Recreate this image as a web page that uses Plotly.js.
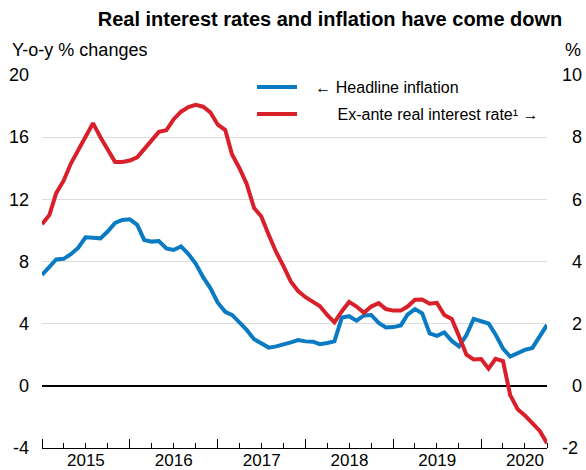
<!DOCTYPE html>
<html><head><meta charset="utf-8">
<script src="https://cdn.plot.ly/plotly-3.0.1.min.js"></script>
<style>html,body{margin:0;padding:0;background:#fff}</style>
</head><body><div id="chart" style="width:586px;height:470px"></div>
<script>
// Monthly data, Jan 2015 - Oct 2020
const firstYear = 2015;
const headlineInflation = [
  7.14, 7.70, 8.13, 8.17, 8.47, 8.89, 9.56, 9.53, 9.49, 9.93, 10.48, 10.67,
  10.71, 10.36, 9.39, 9.28, 9.32, 8.84, 8.74, 8.97, 8.48, 7.87, 6.99, 6.29,
  5.35, 4.76, 4.57, 4.08, 3.60, 3.00, 2.71, 2.46, 2.54, 2.70, 2.80, 2.95,
  2.86, 2.84, 2.68, 2.76, 2.86, 4.39, 4.48, 4.19, 4.53, 4.56, 4.05, 3.75,
  3.78, 3.89, 4.58, 4.94, 4.66, 3.37, 3.22, 3.43, 2.89, 2.54, 3.27, 4.31,
  4.19, 4.01, 3.30, 2.40, 1.88, 2.13, 2.31, 2.44, 3.14, 3.92
];
const realRate = [
  5.2, 5.5, 6.2, 6.6, 7.15, 7.6, 8.05, 8.45, 8.0, 7.6, 7.2, 7.2,
  7.25, 7.35, 7.6, 7.9, 8.17, 8.22, 8.57, 8.82, 8.97, 9.04, 8.98, 8.8,
  8.4, 8.23, 7.45, 7.0, 6.5, 5.72, 5.45, 4.85, 4.3, 3.85, 3.35, 3.05,
  2.85, 2.7, 2.57, 2.28, 2.04, 2.4, 2.7, 2.55, 2.35, 2.55, 2.66, 2.47,
  2.42, 2.42, 2.55, 2.77, 2.78, 2.64, 2.67, 2.28, 2.15, 1.6, 1.0, 0.85,
  0.86, 0.55, 0.87, 0.8, -0.3, -0.75, -0.95, -1.2, -1.45, -1.85
];
const leftTickVals = [-4, 0, 4, 8, 12, 16, 20];
const leftTickText = ['-4', '0', '4', '8', '12', '16', '20'];
const rightTickVals = [-2, 0, 2, 4, 6, 8, 10];
const rightTickText = ['-2', '\u20070', '\u20072', '\u20074', '\u20076', '\u20078', '10'];
const seriesNames = ['\u00a0\u00a0\u00a0\u2190 Headline inflation',
                     '\u00a0\u00a0\u00a0\u00a0\u00a0\u00a0\u00a0\u00a0Ex-ante real interest rate\u00b9 \u2192'];

const months = headlineInflation.map((_, i) => {
  const y = firstYear + Math.floor(i / 12);
  const m = (i % 12) + 1;
  return y + '-' + String(m).padStart(2, '0') + '-01';
});

const FONT = 'Liberation Sans, Arial, sans-serif';
const BLUE = '#0a7bc2';
const RED = '#d9202a';

const traces = [
  {x: months, y: headlineInflation, type: 'scatter', mode: 'lines', name: seriesNames[0],
   line: {color: BLUE, width: 4}, yaxis: 'y', legend: 'legend'},
  {x: months, y: realRate, type: 'scatter', mode: 'lines', name: seriesNames[1],
   line: {color: RED, width: 4}, yaxis: 'y2', legend: 'legend2'}
];

const layout = {
  width: 586, height: 470,
  margin: {l: 42, r: 39, t: 75, b: 22},
  paper_bgcolor: '#fff', plot_bgcolor: '#fff',
  font: {family: FONT, size: 18, color: '#000'},
  showlegend: true,
  title: {text: '<b>Real interest rates and inflation have come down</b>',
          font: {family: FONT, size: 20, color: '#000'},
          x: (330 - 42) / 505, xref: 'paper', xanchor: 'center',
          y: 1 - 19 / 470, yref: 'container', yanchor: 'middle'},
  xaxis: {
    type: 'date', range: ['2015-01-01', '2020-10-01'],
    tick0: '2015-01-01', dtick: 'M12', tickformat: '%Y', ticklabelmode: 'period',
    ticks: 'inside', ticklen: 9, tickwidth: 1, tickcolor: '#000',
    minor: {dtick: 'M3', ticks: 'inside', ticklen: 5, tickwidth: 1, tickcolor: '#000', showgrid: false},
    showline: true, linecolor: '#000', linewidth: 1,
    showgrid: false, zeroline: false, ticklabelstandoff: -3,
    tickfont: {family: FONT, size: 17, color: '#000'}
  },
  yaxis: {
    range: [-4, 20], tickmode: 'array', tickvals: leftTickVals, ticktext: leftTickText,
    showgrid: true, gridcolor: '#dcdcdc', gridwidth: 1,
    zeroline: true, zerolinecolor: '#000', zerolinewidth: 2.5,
    showline: false, ticks: '', ticklabelstandoff: 12,
    tickfont: {family: FONT, size: 18, color: '#000'}
  },
  yaxis2: {
    range: [-2, 10], overlaying: 'y', side: 'right', tickmode: 'array',
    tickvals: rightTickVals, ticktext: rightTickText,
    showgrid: false, zeroline: false, showline: false, ticks: '', ticklabelstandoff: 14,
    tickfont: {family: FONT, size: 18, color: '#000'}
  },
  legend: {x: (252 - 42) / 505, y: (448 - 87) / 373, xanchor: 'left', yanchor: 'middle',
           bgcolor: 'rgba(0,0,0,0)', borderwidth: 0, itemwidth: 40,
           font: {family: FONT, size: 16, color: '#000'}},
  legend2: {x: (252 - 42) / 505, y: (448 - 114) / 373, xanchor: 'left', yanchor: 'middle',
           bgcolor: 'rgba(0,0,0,0)', borderwidth: 0, itemwidth: 40,
           font: {family: FONT, size: 16, color: '#000'}},
  annotations: [
    {text: 'Y-o-y % changes', xref: 'paper', yref: 'paper', x: -32 / 505, y: (448 - 50) / 373,
     xanchor: 'left', yanchor: 'middle', showarrow: false, font: {family: FONT, size: 18, color: '#000'}},
    {text: '%', xref: 'paper', yref: 'paper', x: (583 - 42) / 505, y: (448 - 50) / 373,
     xanchor: 'right', yanchor: 'middle', showarrow: false, font: {family: FONT, size: 18, color: '#000'}}
  ]
};

Plotly.newPlot('chart', traces, layout, {displayModeBar: false, staticPlot: true});
</script></body></html>
